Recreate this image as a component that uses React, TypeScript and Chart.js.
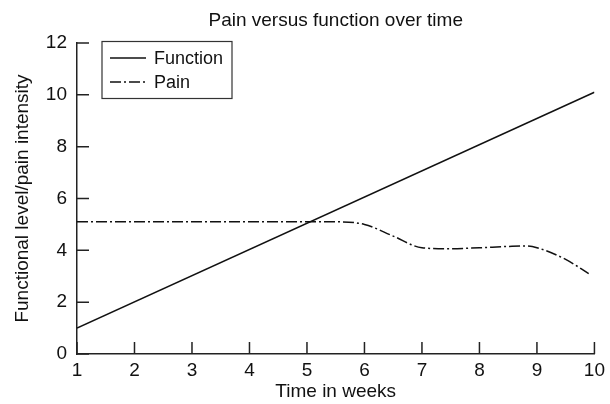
import React, { useEffect, useRef } from 'react';
import { Chart, registerables } from 'chart.js';

Chart.register(...registerables);

const chartTitle = 'Pain versus function over time';
const xAxisTitle = 'Time in weeks';
const yAxisTitle = 'Functional level/pain intensity';
const seriesLabels = ['Function', 'Pain'];

const functionWeeks = [1, 10];
const functionValues = [1, 10.1];

const painWeeks = [1, 2, 3, 4, 5, 5.5, 6, 6.5, 7, 7.5, 8, 8.5, 8.8, 9, 9.5, 9.9];
const painValues = [5.1, 5.1, 5.1, 5.1, 5.1, 5.1, 5.0, 4.55, 4.1, 4.06, 4.1, 4.15, 4.17, 4.1, 3.65, 3.1];

const xMin = 1;
const xMax = 10;
const yMin = 0;
const yMax = 12;
const yStep = 2;

const FONT = "'Liberation Sans', Arial, sans-serif";
const TEXT = '#111111';
const AXIS = '#222222';
const PAIN_DASH = [11, 3, 2, 3];

const decorPlugin = {
  id: 'decor',
  afterDraw(chart: any) {
    const { ctx, chartArea, scales } = chart;
    const xs = scales.x;
    const ys = scales.y;
    ctx.save();

    // title centred over the plot area
    ctx.fillStyle = TEXT;
    ctx.font = `19px ${FONT}`;
    ctx.textAlign = 'center';
    ctx.textBaseline = 'middle';
    ctx.fillText(chartTitle, (chartArea.left + chartArea.right) / 2, 21);

    // inward tick marks
    ctx.strokeStyle = AXIS;
    ctx.lineWidth = 1.5;
    ctx.beginPath();
    ys.ticks.forEach((t: any) => {
      const py = ys.getPixelForValue(t.value);
      ctx.moveTo(chartArea.left, py);
      ctx.lineTo(chartArea.left + 12, py);
    });
    xs.ticks.forEach((t: any) => {
      const px = xs.getPixelForValue(t.value);
      ctx.moveTo(px, chartArea.bottom);
      ctx.lineTo(px, chartArea.bottom - 12);
    });
    ctx.stroke();

    // legend box
    const bx = chartArea.left + 25;
    const by = chartArea.top - 1.5;
    const bw = 130;
    const bh = 57;
    ctx.strokeStyle = '#333333';
    ctx.lineWidth = 1.2;
    ctx.strokeRect(bx, by, bw, bh);
    const rows = [by + 16.5, by + 40.5];
    chart.data.datasets.forEach((ds: any, i: number) => {
      const ry = rows[i];
      ctx.beginPath();
      ctx.strokeStyle = ds.borderColor;
      ctx.lineWidth = ds.borderWidth;
      ctx.setLineDash(ds.borderDash || []);
      ctx.moveTo(bx + 8, ry);
      ctx.lineTo(bx + 44, ry);
      ctx.stroke();
      ctx.setLineDash([]);
      ctx.fillStyle = TEXT;
      ctx.font = `18px ${FONT}`;
      ctx.textAlign = 'left';
      ctx.textBaseline = 'middle';
      ctx.fillText(ds.label, bx + 52, ry + 1);
    });
    ctx.restore();
  },
};

export default function App() {
  const ref = useRef<HTMLCanvasElement | null>(null);

  useEffect(() => {
    if (!ref.current) return;
    const chart = new Chart(ref.current, {
      type: 'line',
      data: {
        datasets: [
          {
            label: seriesLabels[0],
            data: functionWeeks.map((w, i) => ({ x: w, y: functionValues[i] })),
            borderColor: '#111111',
            borderWidth: 1.5,
            pointRadius: 0,
            fill: false,
          },
          {
            label: seriesLabels[1],
            data: painWeeks.map((w, i) => ({ x: w, y: painValues[i] })),
            borderColor: '#111111',
            borderWidth: 1.5,
            borderDash: PAIN_DASH,
            pointRadius: 0,
            fill: false,
            cubicInterpolationMode: 'monotone',
          },
        ],
      },
      options: {
        responsive: false,
        animation: false,
        devicePixelRatio: 1,
        layout: { padding: { left: 0, right: 11, top: 43, bottom: 0 } },
        plugins: {
          legend: { display: false },
          tooltip: { enabled: false },
          title: { display: false },
        },
        scales: {
          x: {
            type: 'linear',
            min: xMin,
            max: xMax,
            ticks: {
              stepSize: 1,
              padding: 5,
              color: TEXT,
              font: { family: FONT, size: 19 },
            },
            grid: { display: false, drawTicks: false },
            border: { display: true, color: AXIS, width: 1.5 },
            title: {
              display: true,
              text: xAxisTitle,
              color: TEXT,
              font: { family: FONT, size: 19 },
              padding: { top: 0, bottom: 1 },
            },
            afterFit: (s: any) => {
              s.height = 50;
            },
          },
          y: {
            min: yMin,
            max: yMax,
            ticks: {
              stepSize: yStep,
              padding: 10,
              color: TEXT,
              font: { family: FONT, size: 19 },
            },
            grid: { display: false, drawTicks: false },
            border: { display: true, color: AXIS, width: 1.5 },
            title: {
              display: true,
              text: yAxisTitle,
              color: TEXT,
              font: { family: FONT, size: 19 },
              padding: { top: 11, bottom: 0 },
            },
            afterFit: (s: any) => {
              s.width = 77;
            },
          },
        },
      },
      plugins: [decorPlugin],
    } as any);
    return () => chart.destroy();
  }, []);

  return (
    <div style={{ position: 'fixed', left: 0, top: 0, width: 610, height: 404, background: '#fff' }}>
      <canvas ref={ref} width={610} height={404} style={{ display: 'block' }} />
    </div>
  );
}
